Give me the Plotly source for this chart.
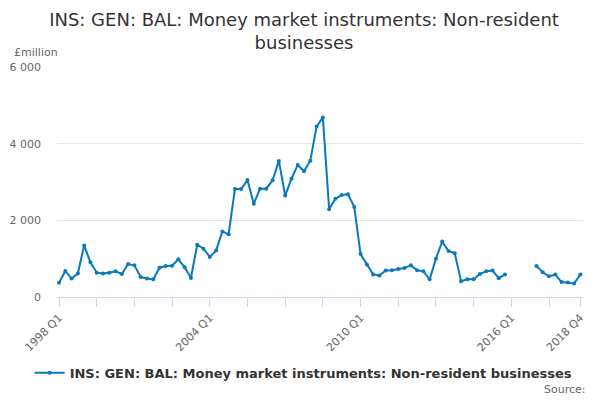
import plotly.graph_objects as go

years = list(range(1998, 2019))
quarters = [f"{y} Q{q}" for y in years for q in range(1, 5)]

values = [
    370, 680, 480, 615, 1345, 905, 635, 615, 635, 670, 600, 860,
    825, 520, 485, 460, 765, 810, 815, 985, 775, 495, 1365, 1260,
    1045, 1210, 1710, 1635, 2815, 2815, 3050, 2435, 2825, 2825, 3045, 3550,
    2645, 3085, 3445, 3280, 3555, 4445, 4685, 2290, 2565, 2660, 2680, 2350,
    1120, 850, 590, 560, 690, 700, 730, 755, 825, 695, 670, 460,
    1000, 1445, 1200, 1140, 410, 460, 460, 600, 670, 690, 490, 590,
    None, None, None, None, 810, 645, 540, 585, 390, 375, 355, 585,
]

series_name = "INS: GEN: BAL: Money market instruments: Non-resident businesses"
title_text = "INS: GEN: BAL: Money market instruments: Non-resident<br>businesses"
tick_idx = list(range(0, 84, 6)) + [83]
label_quarters = ["1998 Q1", "2004 Q1", "2010 Q1", "2016 Q1", "2018 Q4"]
tick_vals = [quarters[i] for i in tick_idx]
tick_text = [q if q in label_quarters else "" for q in tick_vals]

y_ticks = [0, 2000, 4000, 6000]

font_family = "DejaVu Sans"
line_color = "#0a78bd"

fig = go.Figure()
fig.add_trace(go.Scatter(
    x=quarters, y=values, mode="lines+markers", name=series_name,
    line=dict(color=line_color, width=2),
    marker=dict(color=line_color, size=4),
    connectgaps=False,
))

fig.update_layout(
    width=592, height=392,
    margin=dict(l=49, r=17, t=59, b=103, autoexpand=False),
    paper_bgcolor="white", plot_bgcolor="white",
    separators=". ",
    font=dict(family=font_family, color="#666666", size=11),
    title=dict(text=title_text, x=0.5, xanchor="center", y=0.955, yanchor="top",
               font=dict(family=font_family, size=18, color="#333333")),
    showlegend=True,
    legend=dict(orientation="h", x=-0.052, xanchor="left", y=-0.33, yanchor="middle",
                font=dict(family=font_family, size=13, color="#333333", weight="bold")),
    xaxis=dict(
        type="category", categoryorder="array", categoryarray=quarters,
        range=[-0.32, 83.41], automargin=False,
        tickmode="array", tickvals=tick_vals, ticktext=tick_text,
        tickangle=-45, ticks="outside", ticklen=9, tickcolor="#ccd6eb",
        showline=True, linecolor="#ccd6eb", linewidth=1,
        showgrid=False, zeroline=False,
        tickfont=dict(family=font_family, size=11, color="#666666"),
    ),
    yaxis=dict(
        range=[0, 6000], tickmode="array", tickvals=y_ticks, tickformat=",d",
        automargin=False,
        showgrid=True, gridcolor="#e6e6e6", zeroline=False, showline=False,
        ticks="", ticklabelstandoff=15,
        tickfont=dict(family=font_family, size=11, color="#666666"),
    ),
    annotations=[
        dict(text="£million", xref="paper", yref="paper", x=-0.0856, y=1.065,
             xanchor="left", yanchor="middle", showarrow=False,
             font=dict(family=font_family, size=11, color="#666666")),
        dict(text="Source:", xref="paper", yref="paper", x=1.0095, y=-0.404,
             xanchor="right", yanchor="middle", showarrow=False,
             font=dict(family=font_family, size=11, color="#666666")),
    ],
)

fig.write_html("out.html")
